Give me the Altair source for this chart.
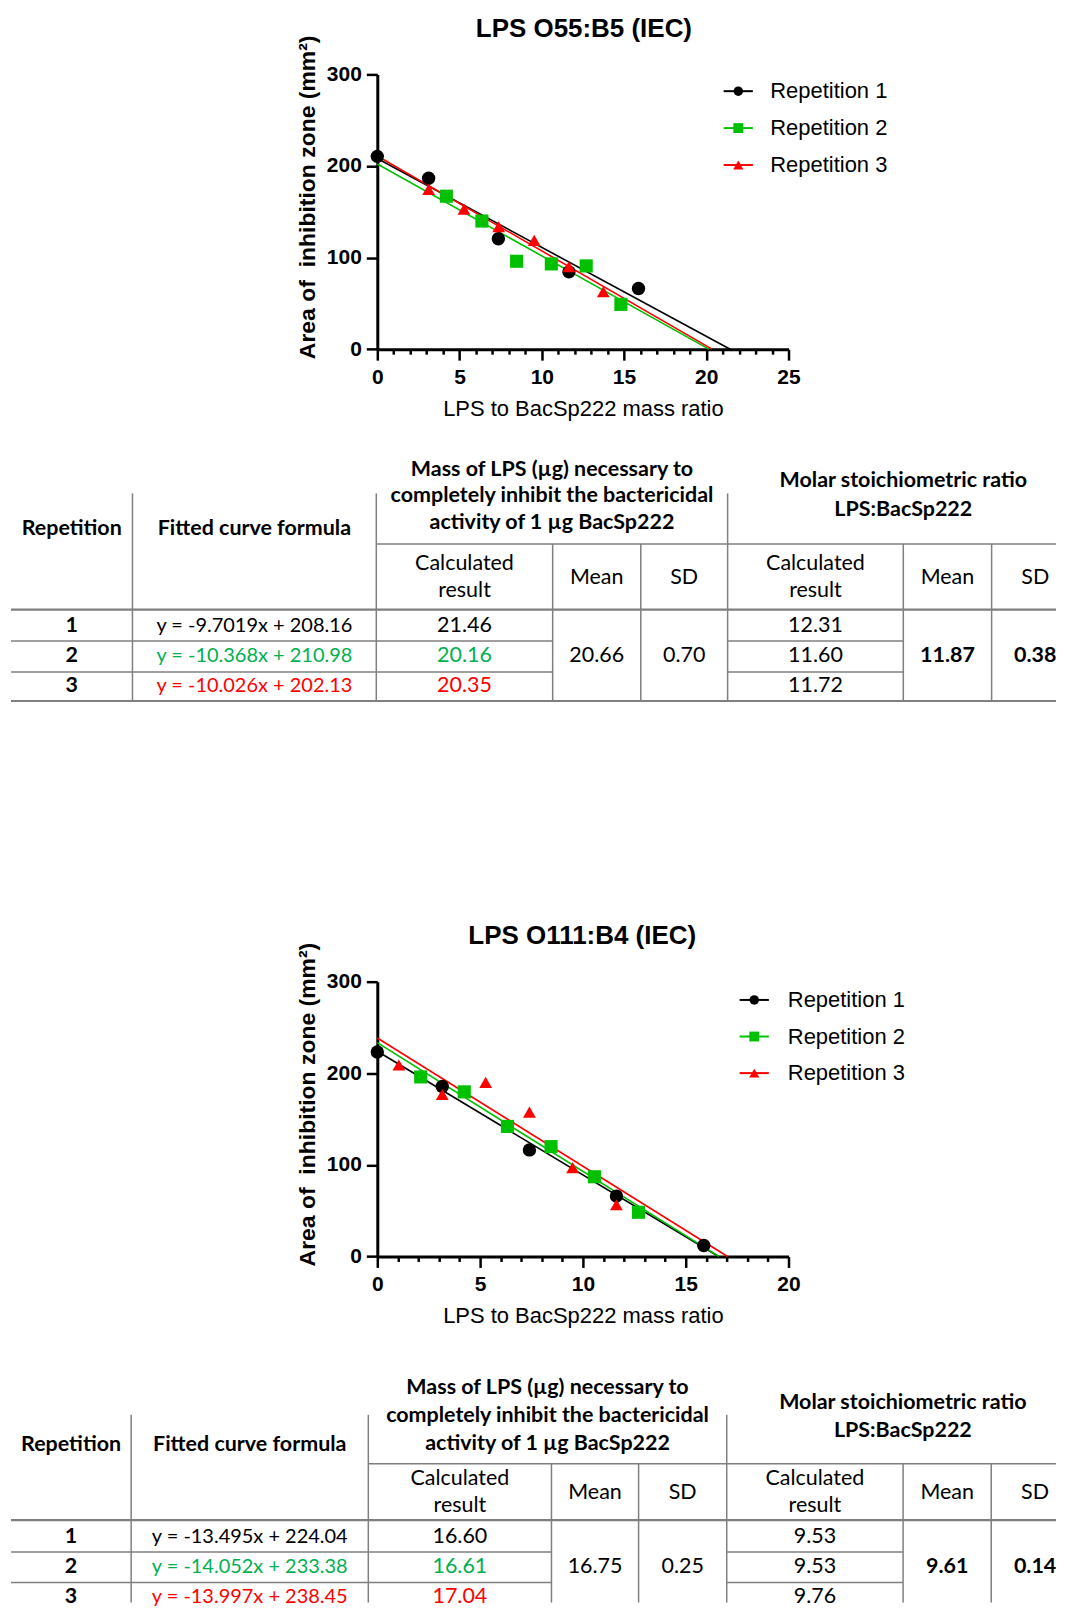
import altair as alt
import pandas as pd

# ---------------- data ----------------
series = ["Repetition 1", "Repetition 2", "Repetition 3"]

# Chart 1: LPS O55:B5 (IEC)
c1_r1_x = [0.0, 3.12, 7.36, 11.65, 15.88]
c1_r1_y = [210.5, 186.6, 120.6, 84.4, 66.3]
c1_r2_x = [4.2, 6.36, 8.47, 10.58, 12.7, 14.81]
c1_r2_y = [167.0, 139.9, 96.0, 93.1, 90.9, 48.9]
c1_r3_x = [3.12, 5.27, 7.38, 9.54, 11.65, 13.74]
c1_r3_y = [174.3, 152.9, 133.7, 118.8, 90.0, 62.7]
# fitted lines as drawn (slope, intercept) for Repetition 1, 2, 3
c1_slope = [-9.7019, -10.026, -10.368]
c1_intercept = [208.16, 202.13, 210.98]

# Chart 2: LPS O111:B4 (IEC)
c2_r1_x = [0.0, 3.16, 7.4, 11.63, 15.88]
c2_r1_y = [223.2, 185.5, 116.3, 65.9, 12.0]
c2_r2_x = [2.11, 4.23, 6.33, 8.45, 10.56, 12.7]
c2_r2_y = [196.0, 179.7, 142.0, 119.9, 87.0, 48.2]
c2_r3_x = [1.05, 3.16, 5.27, 7.4, 9.5, 11.63]
c2_r3_y = [209.0, 176.8, 190.0, 157.6, 97.0, 56.5]
c2_slope = [-13.495, -14.052, -13.997]
c2_intercept = [224.04, 233.38, 238.45]

# Table 1
t1_rep = ["1", "2", "3"]
t1_formula = ["y = -9.7019x + 208.16", "y = -10.368x + 210.98", "y = -10.026x + 202.13"]
t1_mass = ["21.46", "20.16", "20.35"]
t1_mass_mean = "20.66"
t1_mass_sd = "0.70"
t1_molar = ["12.31", "11.60", "11.72"]
t1_molar_mean = "11.87"
t1_molar_sd = "0.38"

# Table 2
t2_rep = ["1", "2", "3"]
t2_formula = ["y = -13.495x + 224.04", "y = -14.052x + 233.38", "y = -13.997x + 238.45"]
t2_mass = ["16.60", "16.61", "17.04"]
t2_mass_mean = "16.75"
t2_mass_sd = "0.25"
t2_molar = ["9.53", "9.53", "9.76"]
t2_molar_mean = "9.61"
t2_molar_sd = "0.14"

mass_header = ["Mass of LPS (µg) necessary to", "completely inhibit the bactericidal",
               "activity of 1 µg BacSp222"]
molar_header = ["Molar stoichiometric ratio", "LPS:BacSp222"]

# ---------------- styles ----------------
series_colors = ["#000000", "#00C000", "#FF0000"]
series_shapes = ["circle", "square", "triangle-up"]
point_sizes = [180, 165, 200]
legend_sizes = [90, 105, 120]
row_text_colors = ["#000000", "#00B050", "#FF0000"]
FONT = "Liberation Sans"
TFONT = "Lato"
TSIZE = 21.5
FSIZE = 20
GRID = "#7f7f7f"

PLOT_W = 412
PLOT_H = 275.3
LEFT_GAP = 369
FULL_W = 1050


def points_df(xs, ys):
    rows = []
    for name, xv, yv in zip(series, xs, ys):
        for a, b in zip(xv, yv):
            rows.append({"series": name, "x": a, "y": b})
    return pd.DataFrame(rows)


def lines_df(slopes, intercepts):
    rows = []
    for name, m, b in zip(series, slopes, intercepts):
        rows.append({"series": name, "x": 0.0, "y": b})
        rows.append({"series": name, "x": -b / m, "y": 0.0})
    return pd.DataFrame(rows)


def scatter(pts, lns, xmax, title, title_pos, leg_rows, leg_x):
    xs = alt.Scale(domain=[0, xmax], range=[LEFT_GAP, LEFT_GAP + PLOT_W], nice=False, zero=False)
    ys = alt.Scale(domain=[0, 300], nice=False)
    xaxis = alt.Axis(
        orient="bottom", values=list(range(0, xmax + 1)),
        labelExpr="datum.value % 5 === 0 ? datum.label : ''",
        tickSize={"condition": {"test": "datum.value % 5 === 0", "value": 11}, "value": 5},
        tickWidth=2.5, tickColor="black", domainWidth=3, domainColor="black",
        labelFont=FONT, labelFontSize=21, labelFontWeight="bold", labelColor="black",
        labelPadding=6, labelFlush=False, labelOverlap=False, grid=False,
        title="LPS to BacSp222 mass ratio", titleFont=FONT, titleFontSize=22,
        titleFontWeight="normal", titleColor="black", titleY=59,
        titleX=LEFT_GAP + PLOT_W / 2, titleBaseline="middle", titleAlign="center")
    yaxis = alt.Axis(
        orient="left", values=[0, 100, 200, 300], offset=-LEFT_GAP,
        tickSize=11, tickWidth=2.5, tickColor="black", domainWidth=3, domainColor="black",
        labelFont=FONT, labelFontSize=21, labelFontWeight="bold", labelColor="black",
        labelPadding=5, grid=False,
        title="Area of\u00a0 inhibition zone (mm²)", titleFont=FONT, titleFontSize=23,
        titleFontWeight="bold", titleColor="black", titleX=-70, titleY=PLOT_H / 2 - 15,
        titleAngle=270, titleBaseline="middle", titleAlign="center")
    col = alt.Color("series:N", scale=alt.Scale(domain=series, range=series_colors), legend=None)
    shp = alt.Shape("series:N", scale=alt.Scale(domain=series, range=series_shapes), legend=None)

    ln = alt.Chart(lns).mark_line(strokeWidth=1.6).encode(
        x=alt.X("x:Q", scale=xs, axis=xaxis),
        y=alt.Y("y:Q", scale=ys, axis=yaxis),
        color=col, detail="series:N")
    pt = alt.Chart(pts).mark_point(filled=True, opacity=1).encode(
        x=alt.X("x:Q", scale=xs, axis=xaxis),
        y=alt.Y("y:Q", scale=ys, axis=yaxis),
        color=col, shape=shp,
        size=alt.Size("series:O", scale=alt.Scale(domain=series, range=point_sizes), legend=None))
    plot = alt.layer(ln, pt)

    leg_df = pd.DataFrame({"series": series})
    ly = alt.Y("series:N", axis=None,
               scale=alt.Scale(type="point", domain=series, range=leg_rows, padding=0))
    l_rule = alt.Chart(leg_df).mark_rule(strokeWidth=2).encode(
        x=alt.value(LEFT_GAP + leg_x[0]), x2=alt.value(LEFT_GAP + leg_x[1]), y=ly, color=col)
    l_pt = alt.Chart(leg_df).mark_point(filled=True, opacity=1).encode(
        x=alt.value(LEFT_GAP + leg_x[2]), y=ly, color=col, shape=shp,
        size=alt.Size("series:O", scale=alt.Scale(domain=series, range=legend_sizes), legend=None))
    l_txt = alt.Chart(leg_df).mark_text(align="left", baseline="middle", font=FONT,
                                        fontSize=22, color="black").encode(
        x=alt.value(LEFT_GAP + leg_x[3]), y=ly, text="series:N")
    t_txt = alt.Chart(pd.DataFrame({"t": [title]})).mark_text(
        align="center", baseline="middle", font=FONT, fontSize=26, fontWeight="bold",
        color="black").encode(x=alt.value(title_pos[0]), y=alt.value(title_pos[1]), text="t:N")
    legend = alt.layer(l_rule, l_pt, l_txt, t_txt)

    return alt.layer(plot, legend).resolve_scale(y="independent", size="independent").properties(
        width=FULL_W, height=PLOT_H)


def spacer(w, h):
    return alt.Chart(pd.DataFrame({"s": [""]})).mark_text().encode(
        text="s:N").properties(width=w, height=h)


def table_chart(L, top, height, reps, formulas, mass, mass_mean, mass_sd,
                molar, molar_mean, molar_sd, clip):
    c = L["cols"]

    def mid(i):
        return (c[i] + c[i + 1]) / 2

    bold, reg, form = [], [], []
    bold.append(("Repetition", mid(0), L["rep_y"], "#000000"))
    bold.append(("Fitted curve formula", mid(1), L["rep_y"], "#000000"))
    for t, yy in zip(mass_header, L["mass_y"]):
        bold.append((t, (c[2] + c[5]) / 2, yy, "#000000"))
    for t, yy in zip(molar_header, L["molar_y"]):
        bold.append((t, (c[5] + c[8]) / 2, yy, "#000000"))
    for ci in (2, 5):
        reg.append(("Calculated", mid(ci), L["calc_y"][0], "#000000"))
        reg.append(("result", mid(ci), L["calc_y"][1], "#000000"))
    for ci in (3, 6):
        reg.append(("Mean", mid(ci), L["mean_y"], "#000000"))
    for ci in (4, 7):
        reg.append(("SD", mid(ci), L["mean_y"], "#000000"))
    for i in range(3):
        yy = L["row_y"][i]
        bold.append((reps[i], mid(0), yy, "#000000"))
        form.append((formulas[i], mid(1), yy, row_text_colors[i]))
        reg.append((mass[i], mid(2), yy, row_text_colors[i]))
        reg.append((molar[i], mid(5), yy, "#000000"))
    reg.append((mass_mean, mid(3), L["row_y"][1], "#000000"))
    reg.append((mass_sd, mid(4), L["row_y"][1], "#000000"))
    bold.append((molar_mean, mid(6), L["row_y"][1], "#000000"))
    bold.append((molar_sd, mid(7), L["row_y"][1], "#000000"))

    right = L["rule_right"]
    rules = []
    for ci in (1, 2, 5):
        rules.append((c[ci], c[ci], L["vtop"], L["bottom"], 1.5))
    for ci in (3, 4, 6, 7):
        rules.append((c[ci], c[ci], L["sub"], L["bottom"], 1.5))
    rules.append((c[2], right, L["sub"], L["sub"], 1.5))
    rules.append((c[0], right, L["hline"], L["hline"], 2.2))
    for yy in L["rowlines"]:
        rules.append((c[0], c[3], yy, yy, 1.5))
        rules.append((c[5], c[6], yy, yy, 1.5))
    rules.append((c[0], right, L["bottom"], L["bottom"], 2.2))

    xs = alt.Scale(domain=[8, 8 + FULL_W], range=[0, FULL_W], nice=False, zero=False)
    ys = alt.Scale(domain=[top, top + height], range=[0, height], nice=False, zero=False)

    rdf = pd.DataFrame(rules, columns=["x", "x2", "y", "y2", "w"])
    rl = alt.Chart(rdf).mark_rule(color=GRID, clip=clip).encode(
        x=alt.X("x:Q", scale=xs, axis=None), x2="x2:Q",
        y=alt.Y("y:Q", scale=ys, axis=None), y2="y2:Q",
        size=alt.Size("w:Q", scale=None, legend=None))

    def txt(rows, weight, size):
        df = pd.DataFrame(rows, columns=["t", "x", "y", "col"])
        return alt.Chart(df).mark_text(font=TFONT, fontSize=size, fontWeight=weight,
                                       baseline="middle", align="center").encode(
            x=alt.X("x:Q", scale=xs, axis=None),
            y=alt.Y("y:Q", scale=ys, axis=None),
            text="t:N", color=alt.Color("col:N", scale=None, legend=None))

    return alt.layer(rl, txt(reg, "normal", TSIZE), txt(form, "normal", FSIZE),
                     txt(bold, "bold", TSIZE)).properties(width=FULL_W, height=height)


# ---------------- layout ----------------
T1 = dict(cols=[10, 131.7, 376, 552.7, 641, 728, 904, 992.5, 1080], rule_right=1057,
          vtop=492, sub=542.7, hline=608.5, rowlines=[640, 671], bottom=700,
          mass_y=[468.3, 495, 521.7], molar_y=[480, 508.3], rep_y=527.7,
          calc_y=[562.3, 590], mean_y=576.7, row_y=[625, 655, 685])
T2 = dict(cols=[10, 130.4, 368, 551.5, 638.8, 727.1, 903.8, 992.1, 1080], rule_right=1057,
          vtop=1414, sub=1463, hline=1519.5, rowlines=[1551.5, 1582], bottom=1612,
          mass_y=[1387.6, 1415.3, 1443], molar_y=[1402, 1429.7], rep_y=1444,
          calc_y=[1478, 1505.6], mean_y=1492.3, row_y=[1536.5, 1566.5, 1597])

sc1 = scatter(points_df([c1_r1_x, c1_r2_x, c1_r3_x], [c1_r1_y, c1_r2_y, c1_r3_y]),
              lines_df(c1_slope, c1_intercept), 25, "LPS O55:B5 (IEC)", (576, -45.5),
              [16.8, 90.8], [347, 376.3, 361.7, 393.7])
sc2 = scatter(points_df([c2_r1_x, c2_r2_x, c2_r3_x], [c2_r1_y, c2_r2_y, c2_r3_y]),
              lines_df(c2_slope, c2_intercept), 20, "LPS O111:B4 (IEC)", (574.3, -45.5),
              [18.3, 91.6], [363, 392.3, 377.7, 411.3])

tab1 = table_chart(T1, 348.2, 632.5, t1_rep, t1_formula, t1_mass, t1_mass_mean, t1_mass_sd,
                   t1_molar, t1_molar_mean, t1_molar_sd, False)
tab2 = table_chart(T2, 1256, 346, t2_rep, t2_formula, t2_mass, t2_mass_mean, t2_mass_sd,
                   t2_molar, t2_molar_mean, t2_molar_sd, True)

chart = alt.vconcat(spacer(FULL_W, 64.9), sc1, tab1, sc2, tab2,
                    spacing=0, bounds="flush").properties(padding=0).configure(
    font=FONT, view=alt.ViewConfig(stroke="transparent"))

chart.save("out.html", embed_options={"renderer": "svg", "actions": False})
